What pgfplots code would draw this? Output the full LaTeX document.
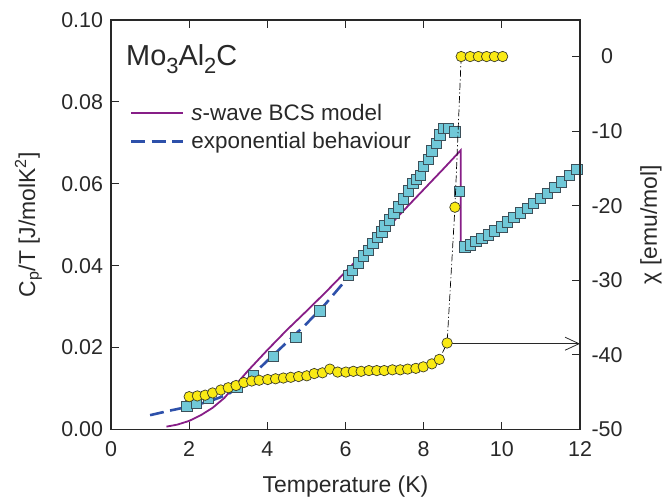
\documentclass[border=0pt]{standalone}
\usepackage{pgfplots}
\pgfplotsset{compat=1.18}
\usepackage{fontspec}
\setmainfont{Liberation Sans}
\usetikzlibrary{arrows.meta}
\definecolor{sqfill}{RGB}{112,200,216}
\definecolor{sqdraw}{RGB}{60,80,90}
\definecolor{cifill}{RGB}{250,234,20}
\definecolor{cidraw}{RGB}{60,60,40}
\definecolor{bcs}{RGB}{135,30,135}
\definecolor{expo}{RGB}{45,80,170}
\definecolor{axc}{RGB}{40,40,40}
\pgfplotsset{
  common/.style={
    at={(111bp,70.5bp)}, anchor=south west, scale only axis,
    width=469bp, height=409.5bp,
    xmin=0, xmax=12,
    tick align=inside, major tick length=8bp,
    every tick/.style={line width=1bp, axc},
    axis line style={line width=1.6bp, axc},
    /pgf/number format/assume math mode=true,
    every tick label/.append style={font=\fontsize{21.5}{24}\selectfont, text=axc},
    label style={font=\fontsize{23}{26}\selectfont, text=axc},
  }
}
\begin{document}
\begin{tikzpicture}
\path[use as bounding box] (0,0) rectangle (663bp,500bp);
\begin{axis}[common,
  ymin=0, ymax=0.1,
  xtick={0,2,4,6,8,10,12}, ytick={0,0.02,0.04,0.06,0.08,0.1},
  xtick pos=both, ytick pos=left,
  scaled y ticks=false,
  yticklabel style={/pgf/number format/fixed, /pgf/number format/fixed zerofill, /pgf/number format/precision=2, xshift=-4.5bp},
  xticklabel style={yshift=-8.3bp},
  xlabel={Temperature (K)},
  xlabel style={at={(axis description cs:0.5,0)}, anchor=base, yshift=-63bp},
  ylabel={C\textsubscript{p}/T [J/molK\textsuperscript{2}]},
  ylabel style={at={(axis description cs:-0.162,0.5)}, anchor=base},
  legend style={draw=none, fill=none, at={(axis description cs:0.0335,0.803)}, anchor=north west,
    font=\fontsize{22.5}{25}\selectfont, text=axc, row sep=9bp, column sep=6bp, nodes={inner sep=1bp}},
  legend cell align=left,
  legend image code/.code={\draw[#1, line cap=butt] (0bp,0bp) -- (52bp,0bp);},
]
\addplot[only marks, mark=square*, mark size=5.2bp, mark options={fill=sqfill, draw=sqdraw, line width=0.8bp}, forget plot] coordinates {
(1.94,0.00557) (2.19,0.00654) (2.49,0.00762) (3.22,0.0103) (3.64,0.0131) (4.15,0.0178)
(4.73,0.0225) (5.35,0.0290) (6.07,0.0377) (6.17,0.0388) (6.33,0.0407) (6.46,0.0424)
(6.58,0.0438) (6.70,0.0455) (6.81,0.0469) (6.93,0.0483) (7.01,0.0497) (7.12,0.0512)
(7.24,0.0528) (7.35,0.0544) (7.48,0.0563) (7.61,0.0583) (7.72,0.0601) (7.82,0.0611)
(7.91,0.0621) (7.99,0.0642) (8.12,0.0660) (8.21,0.0680) (8.33,0.0699) (8.42,0.0719)
(8.52,0.0736) (8.63,0.0736) (8.80,0.0727) (8.91,0.0581)
(9.06,0.0446) (9.19,0.0451) (9.34,0.0459) (9.49,0.0467) (9.65,0.0475) (9.81,0.0485)
(10.00,0.0495) (10.14,0.0507) (10.31,0.0518) (10.48,0.0529) (10.65,0.0540) (10.81,0.0552)
(10.98,0.0565) (11.17,0.0577) (11.36,0.0591) (11.53,0.0605) (11.73,0.0621) (11.92,0.0635)
};
\addplot[color=bcs, line width=1.8bp] coordinates {
(1.42,0.0007) (1.7,0.0012) (2.0,0.0021) (2.3,0.0035) (2.6,0.0053) (2.9,0.0077)
(3.2,0.0110) (3.5,0.0143) (4.0,0.0194) (4.5,0.0243) (5.0,0.0289) (5.5,0.0336)
(6.0,0.0385) (6.5,0.0435) (7.0,0.0485) (7.5,0.0536) (8.0,0.0586) (8.5,0.0636)
(8.95,0.0682) (8.95,0.0447)
};
\addlegendentry{\textit{s}-wave BCS model}
\addplot[color=expo, line width=2.6bp, dash pattern=on 14bp off 6.5bp] coordinates {
(1.0,0.0035) (1.5,0.0046) (2.0,0.0056) (2.5,0.0068) (3.0,0.0086) (3.5,0.0122)
(4.0,0.0168) (4.5,0.0213) (5.0,0.0258) (5.5,0.0308) (6.0,0.0364) (6.5,0.0420) (6.8,0.0458)
};
\addlegendentry{exponential behaviour}
\node[anchor=base west, inner sep=0pt, font=\fontsize{29}{31}\selectfont, text=axc] at (axis description cs:0.032,0.890)
  {Mo\raisebox{-8bp}{\fontsize{22}{22}\selectfont 3}Al\raisebox{-8bp}{\fontsize{22}{22}\selectfont 2}C};
\end{axis}
\begin{axis}[common,
  ymin=-50, ymax=4.9,
  axis y line*=right, hide x axis,
  ytick={-50,-40,-30,-20,-10,0},
  yticklabel style={anchor=center, xshift=27bp},
  ylabel={χ [emu/mol]},
  ylabel style={at={(axis description cs:1.164,0.5)}, anchor=base},
  clip=false,
]
\addplot[axc, line width=0.8bp, -{Straight Barb[length=14bp, width=13bp]}] coordinates {(8.6,-38.5) (12,-38.5)};
\addplot[black, line width=0.7bp, dash pattern=on 7bp off 2.5bp on 1.2bp off 2.5bp, mark=*, mark size=5.2bp,
  mark options={solid, fill=cifill, draw=cidraw, line width=0.7bp}] coordinates {
(2.00,-45.6) (2.21,-45.5) (2.41,-45.4) (2.60,-45.1) (2.81,-44.7) (3.00,-44.4) (3.20,-44.1)
(3.40,-43.7) (3.60,-43.5) (3.79,-43.4) (4.01,-43.3) (4.21,-43.2) (4.41,-43.1) (4.60,-43.0)
(4.80,-42.9) (5.01,-42.8) (5.20,-42.5) (5.41,-42.4) (5.60,-41.9) (5.80,-42.3) (6.01,-42.3)
(6.20,-42.2) (6.40,-42.2) (6.60,-42.1) (6.80,-42.1) (6.99,-42.1) (7.20,-42.0) (7.40,-42.0)
(7.59,-41.9) (7.80,-41.8) (7.99,-41.6) (8.21,-41.2) (8.40,-40.6) (8.60,-38.4) (8.80,-20.2)
(8.96,0) (9.19,0) (9.40,0) (9.61,0) (9.81,0) (10.02,0)
};
\end{axis}
\end{tikzpicture}
\end{document}
